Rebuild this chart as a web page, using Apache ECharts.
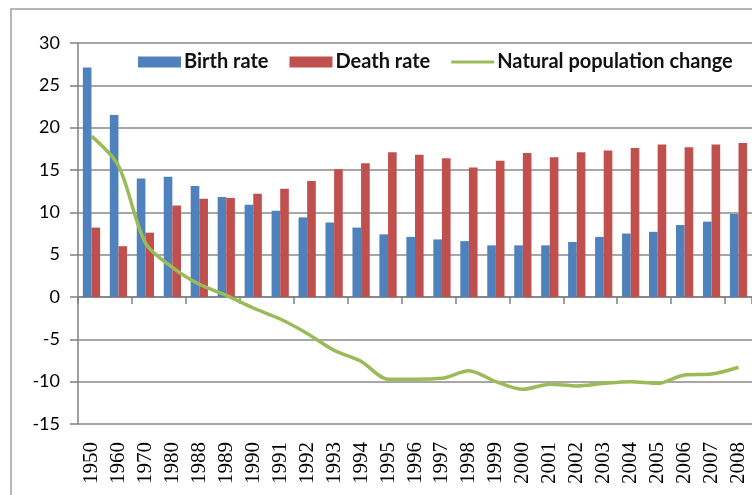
<!DOCTYPE html>
<html><head><meta charset="utf-8">
<script src="https://cdn.jsdelivr.net/npm/echarts@6/dist/echarts.min.js"></script>
<style>html,body{margin:0;padding:0;background:#fff}#c{width:752px;height:495px}</style>
</head><body><div id="c"></div>
<script>
const categories = ['1950','1960','1970','1980','1988','1989','1990','1991','1992','1993','1994','1995','1996','1997','1998','1999','2000','2001','2002','2003','2004','2005','2006','2007','2008'];
const birthRate = [27.1,21.5,14.0,14.2,13.1,11.8,10.9,10.2,9.4,8.8,8.2,7.4,7.1,6.8,6.6,6.1,6.1,6.1,6.5,7.1,7.5,7.7,8.5,8.9,9.8];
const deathRate = [8.2,6.0,7.6,10.8,11.6,11.7,12.2,12.8,13.7,15.1,15.8,17.1,16.8,16.4,15.3,16.1,17.0,16.5,17.1,17.3,17.6,18.0,17.7,18.0,18.2];
const naturalChange = [19.0,15.5,6.4,3.5,1.5,0.2,-1.3,-2.6,-4.3,-6.3,-7.6,-9.7,-9.7,-9.6,-8.7,-10.0,-10.9,-10.3,-10.5,-10.2,-10.0,-10.2,-9.2,-9.1,-8.3];
const yTicks = {min:-15, max:30, interval:5};

const lineIcon = 'path://M0,0L0.01,0L0.01,0.01L0,0.01Z M0,10.99L0.01,10.99L0.01,11L0,11Z M0,4L47,4L47,7L0,7Z';

const chart = echarts.init(document.getElementById('c'), null, {renderer:'canvas'});
chart.setOption({
  animation:false,
  backgroundColor:'#fff',
  graphic:[{type:'rect', shape:{x:11,y:9,width:800,height:600}, style:{fill:'none',stroke:'#a0a0a0',lineWidth:1.5}, z:-1}],
  legend:{
    left:133, top:47, itemGap:21, itemWidth:43, itemHeight:11, symbolKeepAspect:false,
    textStyle:{fontFamily:'Lato', fontSize:20, fontWeight:'bold', color:'#111', padding:[0,0,0,-2]},
    data:[{name:'Birth rate',icon:'rect'},{name:'Death rate',icon:'rect'},{name:'Natural population change', icon:lineIcon, itemStyle:{color:'#9BBB59'}}]
  },
  grid:{left:78, top:43, width:686, height:381, containLabel:false},
  xAxis:[{
    type:'category', data:categories, position:'bottom',
    axisLine:{show:false, onZero:false}, axisTick:{show:false},
    axisLabel:{rotate:90, margin:18, fontFamily:'Liberation Serif', fontSize:21, color:'#000', interval:0}
  },{
    type:'category', data:categories, position:'bottom',
    axisLine:{show:true, onZero:true, lineStyle:{color:'#808080', width:1.5}},
    axisTick:{show:true, length:7, lineStyle:{color:'#808080', width:1.5}},
    axisLabel:{show:false}
  }],
  yAxis:{
    type:'value', min:yTicks.min, max:yTicks.max, interval:yTicks.interval,
    axisLine:{show:true, lineStyle:{color:'#808080', width:1.5}},
    axisTick:{show:true, length:8, lineStyle:{color:'#808080', width:1.5}},
    splitLine:{lineStyle:{color:'#8a8a8a', width:1.5}},
    axisLabel:{margin:18, fontFamily:'Lato', fontSize:18, color:'#000'}
  },
  series:[
    {name:'Birth rate', type:'bar', data:birthRate, barGap:'0%', barCategoryGap:'36%', itemStyle:{color:'#4F81BD'}},
    {name:'Death rate', type:'bar', data:deathRate, barGap:'0%', barCategoryGap:'36%', itemStyle:{color:'#C0504D'}},
    {name:'Natural population change', type:'line', data:naturalChange, smooth:0.3, symbol:'none',
     lineStyle:{color:'#9BBB59', width:3.5}, itemStyle:{color:'#9BBB59'}, z:5}
  ]
});
</script></body></html>
